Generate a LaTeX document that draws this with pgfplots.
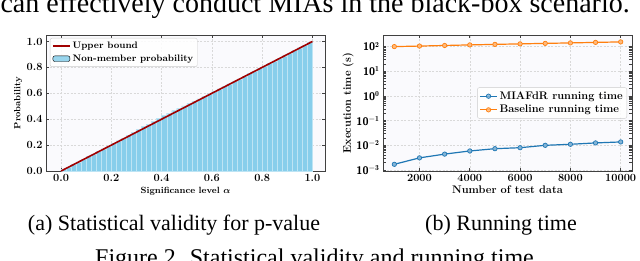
\documentclass[border=0pt]{standalone}
\usepackage{amsmath}
\usepackage{fontspec}
\newfontfamily\capfont{Liberation Serif}
\usepackage{pgfplots}
\pgfplotsset{compat=1.18}
\definecolor{skyb}{HTML}{87CEEB}
\definecolor{dred}{HTML}{A00000}
\definecolor{tblue}{HTML}{1F77B4}
\definecolor{torange}{HTML}{FF7F0E}
\definecolor{bgc}{HTML}{FAFAFD}
\pgfplotsset{
 mystyle/.style={
  scale only axis,
  axis background/.style={fill=bgc},
  axis line style={black!75, line width=0.7bp},
  tick align=inside,
  tick style={black!75, line width=0.6bp},
  major tick length=3bp,
  grid=major,
  major grid style={gray!30, dash pattern=on 2bp off 1.5bp, line width=0.5bp},
  tick label style={font=\fontsize{11bp}{12bp}\selectfont\bfseries},
  /pgf/number format/assume math mode=true,
  legend cell align=left,
 }
}
\begin{document}
\begin{tikzpicture}[x=1bp,y=1bp]
\useasboundingbox (0,0) rectangle (640,260);
% ---------------- left panel
\begin{axis}[mystyle, at={(46bp,89bp)}, anchor=south west, width=279bp, height=136bp,
 xmin=-0.06, xmax=1.05, ymin=0, ymax=1.05,
 xtick={0,0.2,0.4,0.6,0.8,1.0}, ytick={0,0.2,0.4,0.6,0.8,1.0},
 xticklabels={0.0,0.2,0.4,0.6,0.8,1.0}, yticklabels={0.0,0.2,0.4,0.6,0.8,1.0},
 xlabel={Significance level $\boldsymbol{\alpha}$}, ylabel={Probability},
 label style={font=\fontsize{9bp}{10bp}\selectfont\bfseries},
 xlabel style={at={(axis description cs:0.5,-0.147)},anchor=center},
 ylabel style={at={(axis description cs:-0.10,0.5)},anchor=center},
 legend style={at={(0.014,0.978)}, anchor=north west,
   font=\fontsize{9.4bp}{10bp}\selectfont\bfseries, draw=gray!40, rounded corners=2bp,
   fill=white, fill opacity=0.85, text opacity=1, inner sep=2bp, row sep=0.5bp},
]
\addlegendimage{dred, line width=1.6bp}
\addlegendentry{Upper bound}
\addlegendimage{area legend, fill=skyb, draw=none}
\addlegendentry{Non-member probability}
\addplot[ybar, bar width=0.02, bar shift=0pt, fill=skyb, draw=white!45!skyb, line width=0.3bp, forget plot] coordinates {
(0.01,0.012) (0.03,0.030) (0.05,0.050) (0.07,0.070) (0.09,0.090)
(0.11,0.112) (0.13,0.130) (0.15,0.152) (0.17,0.172) (0.19,0.192)
(0.21,0.213) (0.23,0.234) (0.25,0.254) (0.27,0.276) (0.29,0.298)
(0.31,0.322) (0.33,0.345) (0.35,0.362) (0.37,0.386) (0.39,0.408)
(0.41,0.428) (0.43,0.447) (0.45,0.466) (0.47,0.484) (0.49,0.502)
(0.51,0.520) (0.53,0.538) (0.55,0.556) (0.57,0.576) (0.59,0.596)
(0.61,0.614) (0.63,0.634) (0.65,0.652) (0.67,0.672) (0.69,0.692)
(0.71,0.712) (0.73,0.731) (0.75,0.752) (0.77,0.771) (0.79,0.791)
(0.81,0.810) (0.83,0.832) (0.85,0.850) (0.87,0.870) (0.89,0.890)
(0.91,0.910) (0.93,0.930) (0.95,0.952) (0.97,0.972) (0.99,0.995)
};
\addplot[dred, line width=1.6bp, forget plot] coordinates {(0,0) (1,1)};
\end{axis}
% ---------------- right panel
\begin{axis}[mystyle, at={(383bp,89bp)}, anchor=south west, width=249bp, height=136bp,
 ymode=log, xmin=550, xmax=10450, ymin=9.1e-4, ymax=295,
 xtick={2000,4000,6000,8000,10000}, scaled x ticks=false,
 xticklabel style={/pgf/number format/1000 sep={}},
 ytick={1e-3,1e-2,1e-1,1,10,100},
 yticklabels={10$^{\mathbf{-3}}$,10$^{\mathbf{-2}}$,10$^{\mathbf{-1}}$,10$^{\mathbf{0}}$,10$^{\mathbf{1}}$,10$^{\mathbf{2}}$},
 yticklabel style={font=\fontsize{11bp}{12bp}\selectfont\sffamily\bfseries},
 xlabel={Number of test data}, ylabel={Execution time (s)},
 label style={font=\fontsize{11bp}{12bp}\selectfont\bfseries},
 xlabel style={at={(axis description cs:0.5,-0.14)},anchor=center},
 ylabel style={at={(axis description cs:-0.14,0.5)},anchor=center},
 legend style={at={(0.98,0.5)}, anchor=east,
   font=\fontsize{11bp}{12bp}\selectfont\bfseries, draw=gray!40, rounded corners=2bp,
   fill=white, fill opacity=0.85, text opacity=1, inner sep=2bp, row sep=0.5bp},
]
\addplot[tblue, line width=1.2bp, mark=*, mark size=2.2bp, mark options={fill=tblue!55!white, draw=tblue, line width=0.7bp}] coordinates {
(1000,0.0017) (2000,0.0031) (3000,0.0044) (4000,0.0059) (5000,0.0073)
(6000,0.0080) (7000,0.0100) (8000,0.0110) (9000,0.0125) (10000,0.0137)
};
\addlegendentry{MIAFdR running time}
\addplot[torange, line width=1.2bp, mark=*, mark size=2.2bp, mark options={fill=torange!55!white, draw=torange, line width=0.7bp}] coordinates {
(1000,100) (2000,105) (3000,111) (4000,117) (5000,123)
(6000,129) (7000,135) (8000,141) (9000,148) (10000,155)
};
\addlegendentry{Baseline running time}
\end{axis}
% ---------------- captions and surrounding text
\node[anchor=base east, inner sep=0pt, font=\capfont\fontsize{28bp}{30bp}\selectfont] at (630,247.3) {can effectively conduct MIAs in the black-box scenario.};
\node[anchor=base, inner sep=0pt, font=\capfont\fontsize{22bp}{24bp}\selectfont] at (174,30) {(a) Statistical validity for p-value};
\node[anchor=base, inner sep=0pt, font=\capfont\fontsize{22bp}{24bp}\selectfont] at (501,30) {(b) Running time};
\node[anchor=base, inner sep=0pt, font=\capfont\fontsize{24bp}{26bp}\selectfont] at (317.5,-5) {Figure 2. Statistical validity and running time.};
\end{tikzpicture}
\end{document}
